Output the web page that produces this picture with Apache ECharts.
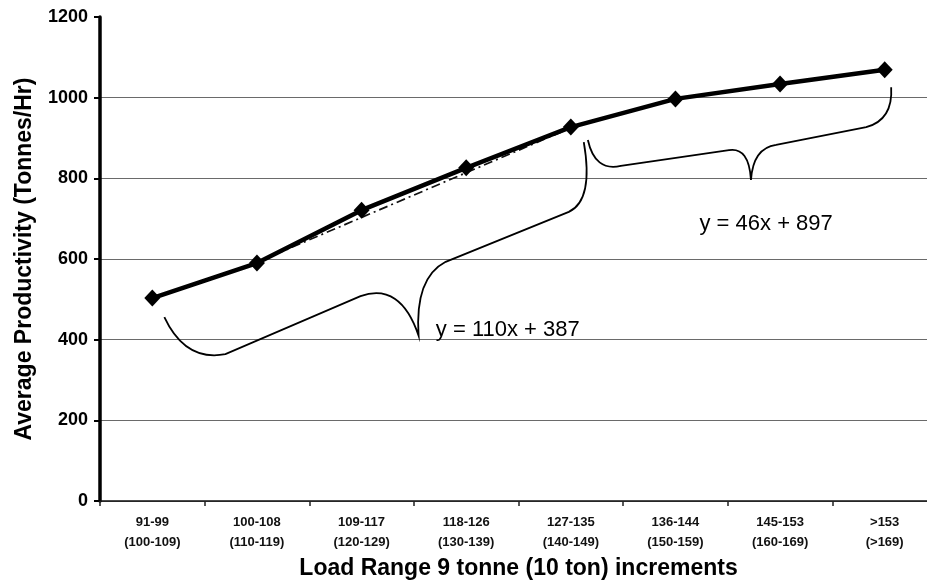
<!DOCTYPE html>
<html>
<head>
<meta charset="utf-8">
<title>Average Productivity by Load Range</title>
<script src="https://cdn.jsdelivr.net/npm/echarts@6/dist/echarts.min.js"></script>
<style>
  html, body { margin: 0; padding: 0; background: #fff; overflow: hidden; }
  /* the plot runs slightly past the right edge of the window */
  #chart { width: 937px; height: 586px; }
</style>
</head>
<body>
<div id="chart"></div>
<script>
// Load ranges: tonnes on the first line, short tons in brackets
const categories = [
  '91-99\n(100-109)', '100-108\n(110-119)', '109-117\n(120-129)', '118-126\n(130-139)',
  '127-135\n(140-149)', '136-144\n(150-159)', '145-153\n(160-169)', '>153\n(>169)'
];
// Average productivity per load range (tonnes/hr)
const productivity = [503, 590, 721, 826, 927, 997, 1034, 1069];
// Straight trend drawn under the rising part of the curve
const trendLow = [null, 592, 703, 814, 925, null, null, null];
const yTicks = [0, 200, 400, 600, 800, 1000, 1200];

// Curly braces grouping the two regression ranges, in data units
// (x = category position, y = tonnes/hr). Each command: [op, x1, y1, x2, y2]
const braceLow = [
  ['M', 0.115, 456],
  ['Q', 0.316, 345, 0.699, 364],
  ['L', 1.990, 508],
  ['Q', 2.373, 543, 2.545, 410],
  ['Q', 2.507, 553, 2.804, 593],
  ['L', 3.981, 717],
  ['Q', 4.220, 746, 4.124, 890]
];
const braceHigh = [
  ['M', 4.163, 895],
  ['Q', 4.230, 816, 4.478, 831],
  ['L', 5.512, 870],
  ['Q', 5.703, 878, 5.722, 796],
  ['Q', 5.742, 875, 5.962, 883],
  ['L', 6.823, 927],
  ['Q', 7.081, 945, 7.062, 1026]
];
const braces = [braceLow, braceHigh];
// Regression equations and where they sit (left edge, vertical middle)
const equations = [
  { text: 'y = 110x + 387', x: 2.71, y: 424 },
  { text: 'y = 46x + 897', x: 5.23, y: 688 }
];

const chart = echarts.init(document.getElementById('chart'), null, { renderer: 'canvas' });
const FONT = 'Arial, "Liberation Sans", Helvetica, sans-serif';

function bracePath(cmds, api) {
  let d = '';
  cmds.forEach(c => {
    if (c[0] === 'Q') {
      const p1 = api.coord([c[1], c[2]]);
      const p2 = api.coord([c[3], c[4]]);
      d += 'Q' + p1[0] + ' ' + p1[1] + ' ' + p2[0] + ' ' + p2[1] + ' ';
    } else {
      const p = api.coord([c[1], c[2]]);
      d += c[0] + p[0] + ' ' + p[1] + ' ';
    }
  });
  return d;
}

const gridColors = yTicks.map((v, i) => (i === yTicks.length - 1 ? 'rgba(0,0,0,0)' : '#6a6a6a'));

chart.setOption({
  backgroundColor: '#ffffff',
  animation: false,
  grid: { left: 100, right: 0, top: 17, bottom: 85, containLabel: false },
  xAxis: [
    {
      type: 'category',
      data: categories,
      boundaryGap: true,
      axisLine: { show: true, onZero: false, lineStyle: { color: '#111', width: 1.5 } },
      axisTick: { show: true, length: 5, lineStyle: { color: '#222', width: 1.5 } },
      axisLabel: {
        interval: 0, margin: 11, color: '#111', fontFamily: FONT,
        fontWeight: 'bold', fontSize: 13, lineHeight: 20
      },
      splitLine: { show: false },
      name: 'Load Range 9 tonne (10 ton) increments',
      nameLocation: 'middle',
      nameGap: 66,
      nameTextStyle: {
        color: '#000', fontFamily: FONT, fontWeight: 'bold', fontSize: 23,
        verticalAlign: 'middle'
      }
    },
    {
      type: 'value', min: -0.5, max: 7.5, show: false
    }
  ],
  yAxis: {
    type: 'value',
    min: 0, max: 1200, interval: 200,
    axisLine: { show: true, onZero: false, lineStyle: { color: '#000', width: 3.5 } },
    axisTick: { show: true, length: 6, lineStyle: { color: '#000', width: 2 } },
    axisLabel: {
      margin: 12, color: '#000', fontFamily: FONT, fontWeight: 'bold', fontSize: 18,
      formatter: v => String(v)
    },
    splitLine: { show: true, lineStyle: { color: gridColors, width: 1.2 } },
    name: 'Average Productivity (Tonnes/Hr)',
    nameLocation: 'middle',
    nameGap: 75,
    nameTextStyle: {
      color: '#000', fontFamily: FONT, fontWeight: 'bold', fontSize: 23,
      verticalAlign: 'middle'
    }
  },
  series: [
    {
      name: 'Trend',
      type: 'line',
      data: trendLow,
      symbol: 'none',
      connectNulls: false,
      lineStyle: { color: '#111', width: 1.7, type: [9, 4, 2, 4] },
      z: 2
    },
    {
      name: 'Average Productivity',
      type: 'line',
      data: productivity,
      symbol: 'diamond',
      symbolSize: [16, 17],
      itemStyle: { color: '#000' },
      lineStyle: { color: '#000', width: 4.5 },
      z: 3
    },
    {
      name: 'Braces',
      type: 'custom',
      xAxisIndex: 1,
      yAxisIndex: 0,
      data: braces.map((b, i) => [i]),
      clip: false,
      silent: true,
      renderItem: function (params, api) {
        const i = params.dataIndex;
        const eq = equations[i];
        const pos = api.coord([eq.x, eq.y]);
        return {
          type: 'group',
          children: [
            {
              type: 'path',
              shape: { pathData: bracePath(braces[i], api) },
              style: { stroke: '#000', lineWidth: 1.8, fill: null }
            },
            {
              type: 'text',
              x: pos[0], y: pos[1],
              style: {
                text: eq.text, fill: '#000',
                font: 'normal 22px ' + FONT,
                textAlign: 'left', textVerticalAlign: 'middle'
              }
            }
          ]
        };
      },
      z: 4
    }
  ]
});
</script>
</body>
</html>
